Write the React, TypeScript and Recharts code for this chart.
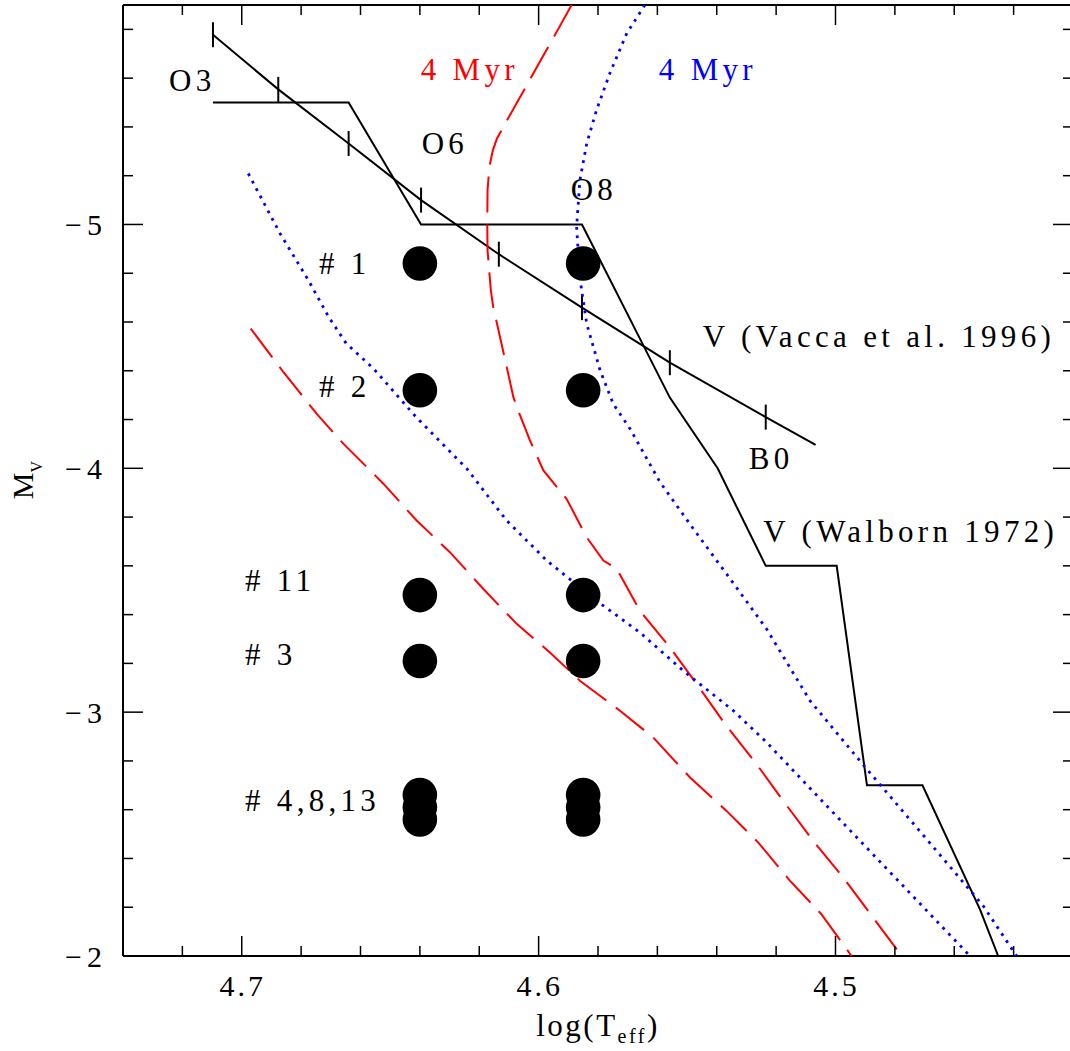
import React from 'react';
import { ComposedChart, Scatter, XAxis, YAxis } from 'recharts';

const FONT = 'Liberation Serif, DejaVu Serif, serif';

// ---- axis ticks ----
const xTicks = [4.44, 4.46, 4.48, 4.5, 4.52, 4.54, 4.56, 4.58, 4.6, 4.62, 4.64, 4.66, 4.68, 4.7, 4.72];
const xMajor = [4.5, 4.6, 4.7];
const yTicks = [-5.8, -5.6, -5.4, -5.2, -5.0, -4.8, -4.6, -4.4, -4.2, -4.0, -3.8, -3.6, -3.4, -3.2, -3.0, -2.8, -2.6, -2.4, -2.2, -2.0];
const yMajor = [-5, -4, -3, -2];

// ---- Vacca et al. 1996 calibration (O3 ... B0, B0.5 end) ----
const vaccaLine = [
  { x: 4.7097, y: -5.778 },
  { x: 4.6877, y: -5.554 },
  { x: 4.664, y: -5.332 },
  { x: 4.6396, y: -5.1 },
  { x: 4.6134, y: -4.878 },
  { x: 4.5854, y: -4.659 },
  { x: 4.5558, y: -4.433 },
  { x: 4.5235, y: -4.21 },
  { x: 4.5067, y: -4.096 },
];
const vaccaTicks = [
  { x: 4.7097, y: -5.778 },
  { x: 4.6877, y: -5.554 },
  { x: 4.664, y: -5.332 },
  { x: 4.6396, y: -5.1 },
  { x: 4.6134, y: -4.878 },
  { x: 4.5854, y: -4.659 },
  { x: 4.5558, y: -4.433 },
  { x: 4.5235, y: -4.21 },
];

// ---- Walborn 1972 calibration ----
const walbornLine = [
  { x: 4.7097, y: -5.5 },
  { x: 4.664, y: -5.5 },
  { x: 4.6396, y: -5.0 },
  { x: 4.5854, y: -5.0 },
  { x: 4.5558, y: -4.29 },
  { x: 4.5397, y: -4.0 },
  { x: 4.5235, y: -3.6 },
  { x: 4.4996, y: -3.6 },
  { x: 4.4894, y: -2.7 },
  { x: 4.4707, y: -2.7 },
  { x: 4.4513, y: -2.19 },
  { x: 4.4452, y: -2.0 },
];

// ---- 4 Myr isochrones (red dashed) ----
const redIsoUpper = [
  { x: 4.5889, y: -5.9 }, { x: 4.5936, y: -5.797 }, { x: 4.6002, y: -5.654 }, { x: 4.6049, y: -5.551 },
  { x: 4.6106, y: -5.428 }, { x: 4.614, y: -5.354 }, { x: 4.6154, y: -5.305 }, { x: 4.6166, y: -5.235 },
  { x: 4.6172, y: -5.141 }, { x: 4.6173, y: -5.0 },
  { x: 4.6172, y: -4.894 }, { x: 4.6161, y: -4.73 },
  { x: 4.6153, y: -4.662 }, { x: 4.6125, y: -4.511 }, { x: 4.6085, y: -4.292 }, { x: 4.6069, y: -4.237 },
  { x: 4.6029, y: -4.114 }, { x: 4.5984, y: -3.991 }, { x: 4.5906, y: -3.875 }, { x: 4.5838, y: -3.717 },
  { x: 4.5782, y: -3.622 }, { x: 4.5737, y: -3.588 }, { x: 4.5659, y: -3.416 }, { x: 4.5558, y: -3.266 },
  { x: 4.5468, y: -3.116 }, { x: 4.5372, y: -2.951 }, { x: 4.5266, y: -2.787 }, { x: 4.5176, y: -2.636 },
  { x: 4.5075, y: -2.472 }, { x: 4.4974, y: -2.322 }, { x: 4.4873, y: -2.157 }, { x: 4.4777, y: -2.0 },
];
const redIsoLower = [
  { x: 4.697, y: -4.573 }, { x: 4.686, y: -4.395 }, { x: 4.6748, y: -4.224 }, { x: 4.6658, y: -4.101 },
  { x: 4.6523, y: -3.937 }, { x: 4.6411, y: -3.786 }, { x: 4.6299, y: -3.656 }, { x: 4.6186, y: -3.505 },
  { x: 4.6074, y: -3.362 }, { x: 4.5962, y: -3.245 }, { x: 4.5861, y: -3.129 }, { x: 4.5726, y: -3.006 },
  { x: 4.5614, y: -2.896 }, { x: 4.549, y: -2.732 }, { x: 4.5367, y: -2.595 }, { x: 4.526, y: -2.465 },
  { x: 4.5153, y: -2.308 }, { x: 4.5047, y: -2.171 }, { x: 4.4946, y: -2.0 },
];

// ---- 4 Myr isochrones (blue dotted) ----
const blueIsoUpper = [
  { x: 4.5642, y: -5.9 }, { x: 4.5703, y: -5.784 }, { x: 4.576, y: -5.62 }, { x: 4.5805, y: -5.469 },
  { x: 4.5838, y: -5.332 }, { x: 4.5861, y: -5.182 }, { x: 4.5872, y: -4.99 }, { x: 4.5861, y: -4.778 },
  { x: 4.5838, y: -4.593 }, { x: 4.5793, y: -4.402 }, { x: 4.5749, y: -4.265 }, { x: 4.5692, y: -4.162 },
  { x: 4.5591, y: -3.943 }, { x: 4.5479, y: -3.752 }, { x: 4.5367, y: -3.567 }, { x: 4.5232, y: -3.341 },
  { x: 4.5086, y: -3.047 }, { x: 4.4895, y: -2.767 }, { x: 4.4693, y: -2.479 }, { x: 4.4502, y: -2.205 },
  { x: 4.439, y: -2.0 },
];
const blueIsoLower = [
  { x: 4.6978, y: -5.209 }, { x: 4.6871, y: -4.963 }, { x: 4.6775, y: -4.77 }, { x: 4.6707, y: -4.62 },
  { x: 4.6648, y: -4.512 }, { x: 4.6557, y: -4.41 }, { x: 4.6411, y: -4.208 }, { x: 4.6242, y: -3.999 },
  { x: 4.6108, y: -3.786 },
  { x: 4.5973, y: -3.622 }, { x: 4.5805, y: -3.457 }, { x: 4.5659, y: -3.327 }, { x: 4.5513, y: -3.17 },
  { x: 4.5344, y: -3.006 }, { x: 4.5232, y: -2.876 }, { x: 4.5008, y: -2.588 }, { x: 4.4783, y: -2.301 },
  { x: 4.4547, y: -2.0 },
];

// ---- stars (placed at two temperatures) ----
const starTemps = [4.64, 4.585];
const starMags = [-4.84, -4.32, -3.48, -3.21, -2.66, -2.61, -2.56];
const stars = starTemps.flatMap((t) => starMags.map((m) => ({ x: t, y: m })));

// ---- text annotations (data coordinates of text start / baseline) ----
const blackLabels = [
  { text: 'O3', x: 4.7245, y: -5.547 },
  { text: 'O6', x: 4.6394, y: -5.291 },
  { text: 'O8', x: 4.5892, y: -5.1 },
  { text: 'B0', x: 4.5292, y: -3.998 },
  { text: 'V (Vacca et al. 1996)', x: 4.5447, y: -4.497 },
  { text: 'V (Walborn 1972)', x: 4.5243, y: -3.697 },
  { text: '# 1', x: 4.674, y: -4.796 },
  { text: '# 2', x: 4.674, y: -4.292 },
  { text: '# 11', x: 4.6989, y: -3.496 },
  { text: '# 3', x: 4.6989, y: -3.195 },
  { text: '# 4,8,13', x: 4.6989, y: -2.595 },
];
const redLabels = [{ text: '4 Myr', x: 4.6397, y: -5.592 }];
const blueLabels = [{ text: '4 Myr', x: 4.5595, y: -5.592 }];

const PLOT = { left: 123, right: 1073, top: 5, bottom: 956 };

const isMajor = (list: number[], v: number) => list.some((m) => Math.abs(m - v) < 1e-6);

const XTick = (props: any) => {
  const { x, payload } = props;
  const v = payload.value;
  const major = isMajor(xMajor, v);
  const len = major ? 20 : 10;
  return (
    <g>
      <line x1={x} x2={x} y1={PLOT.bottom} y2={PLOT.bottom - len} stroke="#000" strokeWidth={1.5} />
      <line x1={x} x2={x} y1={PLOT.top} y2={PLOT.top + len} stroke="#000" strokeWidth={1.5} />
      {major && (
        <text x={x + 1} y={996} textAnchor="middle" style={{ fontFamily: FONT }} fontSize={30} letterSpacing={3} fill="#000">
          {v.toFixed(1)}
        </text>
      )}
    </g>
  );
};

const YTick = (props: any) => {
  const { y, payload } = props;
  const v = payload.value;
  const major = isMajor(yMajor, v);
  const len = major ? 20 : 10;
  return (
    <g>
      <line x1={PLOT.left} x2={PLOT.left + len} y1={y} y2={y} stroke="#000" strokeWidth={1.5} />
      <line x1={PLOT.right - len} x2={PLOT.right} y1={y} y2={y} stroke="#000" strokeWidth={1.5} />
      {major && (
        <text x={107} y={y + 11} textAnchor="end" style={{ fontFamily: FONT }} fontSize={30} letterSpacing={5} fill="#000">
          {'\u2212' + Math.abs(v).toFixed(0)}
        </text>
      )}
    </g>
  );
};

const XTitle = () => (
  <text x={598} y={1036} textAnchor="middle" style={{ fontFamily: FONT }} fontSize={31} letterSpacing={2.5} fill="#000">
    log(T
    <tspan fontSize={20} dy={7}>eff</tspan>
    <tspan dy={-7}>)</tspan>
  </text>
);

const YTitle = () => (
  <text
    x={33}
    y={480}
    textAnchor="middle"
    transform="rotate(-90 33 480)"
    style={{ fontFamily: FONT }}
    fontSize={30}
    fill="#000"
  >
    M
    <tspan fontSize={16} dy={9}>V</tspan>
  </text>
);

const NoShape = () => <g />;
const StarShape = (p: any) => <circle cx={p.cx} cy={p.cy} r={17.3} fill="#000" />;
const TickShape = (p: any) => (
  <line x1={p.cx} x2={p.cx} y1={p.cy - 12.5} y2={p.cy + 12.5} stroke="#000" strokeWidth={2} />
);
const makeLabelShape = (color: string) => (p: any) => (
  <text x={p.cx} y={p.cy} style={{ fontFamily: FONT }} fontSize={31} letterSpacing={4.3} fill={color}>
    {p.payload.text}
  </text>
);
const BlackLabel = makeLabelShape('#000');
const RedLabel = makeLabelShape('#ff0000');
const BlueLabel = makeLabelShape('#0000ff');

export default function App() {
  return (
    <div style={{ position: 'absolute', left: 0, top: 0, width: 1070, height: 1051, overflow: 'hidden', background: '#fff' }}>
      <ComposedChart width={1073} height={1051} margin={{ top: 0, right: 0, bottom: 0, left: 0 }}>
        <XAxis
          xAxisId={0}
          type="number"
          dataKey="x"
          domain={[4.42, 4.74]}
          reversed
          allowDataOverflow
          ticks={xTicks}
          interval={0}
          tick={<XTick />}
          tickLine={false}
          axisLine={{ stroke: '#000', strokeWidth: 2 }}
          height={95}
          label={<XTitle />}
        />
        <XAxis
          xAxisId="top"
          orientation="top"
          type="number"
          domain={[4.42, 4.74]}
          reversed
          allowDataOverflow
          tick={false}
          tickLine={false}
          axisLine={{ stroke: '#000', strokeWidth: 2 }}
          height={5}
        />
        <YAxis
          type="number"
          dataKey="y"
          domain={[-5.9, -2]}
          reversed
          allowDataOverflow
          ticks={yTicks}
          interval={0}
          tick={<YTick />}
          tickLine={false}
          axisLine={{ stroke: '#000', strokeWidth: 2 }}
          width={123}
          label={<YTitle />}
        />

        <Scatter data={walbornLine} line={{ stroke: '#000', strokeWidth: 2 }} shape={<NoShape />} isAnimationActive={false} />
        <Scatter data={vaccaLine} line={{ stroke: '#000', strokeWidth: 2 }} shape={<NoShape />} isAnimationActive={false} />
        <Scatter data={vaccaTicks} shape={<TickShape />} isAnimationActive={false} />

        <Scatter data={redIsoUpper} line={{ stroke: '#ff0000', strokeWidth: 2, strokeDasharray: '36 12' }} shape={<NoShape />} isAnimationActive={false} />
        <Scatter data={redIsoLower} line={{ stroke: '#ff0000', strokeWidth: 2, strokeDasharray: '36 12' }} shape={<NoShape />} isAnimationActive={false} />
        <Scatter data={blueIsoUpper} line={{ stroke: '#0000ff', strokeWidth: 2.8, strokeDasharray: '2.8 5.6' }} shape={<NoShape />} isAnimationActive={false} />
        <Scatter data={blueIsoLower} line={{ stroke: '#0000ff', strokeWidth: 2.8, strokeDasharray: '2.8 5.6' }} shape={<NoShape />} isAnimationActive={false} />

        <Scatter data={stars} shape={<StarShape />} isAnimationActive={false} />

        <Scatter data={blackLabels} shape={<BlackLabel />} isAnimationActive={false} />
        <Scatter data={redLabels} shape={<RedLabel />} isAnimationActive={false} />
        <Scatter data={blueLabels} shape={<BlueLabel />} isAnimationActive={false} />
      </ComposedChart>
    </div>
  );
}
